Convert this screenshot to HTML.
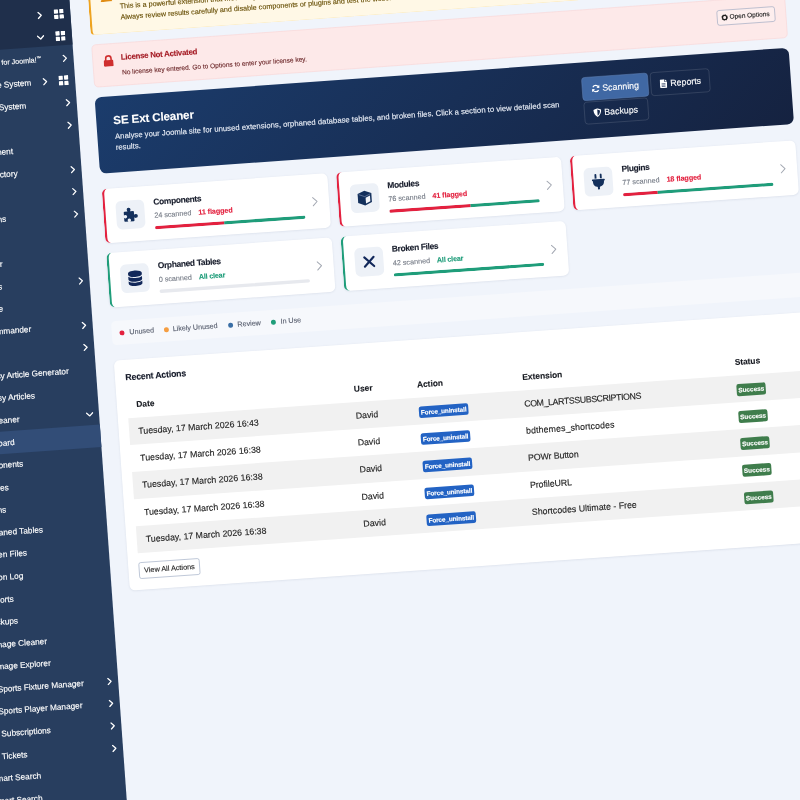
<!DOCTYPE html>
<html lang="en"><head><meta charset="utf-8"><title>SE Ext Cleaner</title>
<style>
html,body{margin:0;padding:0}
body{width:800px;height:800px;overflow:hidden;background:#f0f4fb;position:relative;font-family:"Liberation Sans",sans-serif}
#page{position:absolute;left:0;top:0;width:1800px;height:1800px;transform-origin:0 0;transform:matrix(0.548592,-0.039324,0.039324,0.548592,-73.65,-72.46);background:#f0f4fb}
#page *{box-sizing:border-box}
#page{-webkit-text-stroke:.22px currentColor}
#sb{position:absolute;left:-150px;top:-50px;width:400px;height:1900px;background:#283e5f}
#sbi{position:absolute;left:150px;top:50px;width:250px;height:1800px}
#sbt{position:absolute;left:0;top:0;width:400px;height:281px;background:#1f2f4b}
#act{position:absolute;left:0;top:974.2px;width:400px;height:40.57px;background:#324d77}
.sl{position:absolute;color:#fff;font-size:15px;line-height:20px;white-space:nowrap;-webkit-text-stroke:.25px #fff}
.ch{position:absolute;fill:none;stroke:#fff;stroke-width:2.3;stroke-linecap:round;stroke-linejoin:round}
.gr{position:absolute;fill:#fff}
.abs{position:absolute}
#al1{position:absolute;left:284px;top:100px;width:1264px;height:116.5px;background:#fff8e6;border:1px solid #fde7b0;border-left:4px solid #eea320;border-radius:8px}
#al1 .t{position:absolute;left:52.5px;color:#664d03;font-size:13.1px;line-height:20px;white-space:nowrap}
#al2{position:absolute;left:284px;top:234px;width:1264px;height:78px;background:#fde9e9;border:1px solid #f9d2d2;border-radius:8px}
#al2 .h{position:absolute;left:51px;top:15px;color:#a51c25;font-weight:bold;font-size:14.2px;letter-spacing:-.42px;line-height:20px;white-space:nowrap}
#al2 .d{position:absolute;left:51px;top:43px;color:#6e2a2c;font-size:11.95px;line-height:20px;white-space:nowrap}
#oo{position:absolute;left:1137px;top:18px;width:106px;height:28px;background:rgba(255,255,255,.25);border:1.5px solid #8d9dba;border-radius:4.5px;font-size:11.8px;line-height:25px;color:#222;white-space:nowrap;padding-left:22px}
#oo svg{position:absolute;left:6.5px;top:6.5px}
#hero{position:absolute;left:283px;top:329.5px;width:1265px;height:139px;border-radius:12px;background:linear-gradient(135deg,#1b3c6c 0%,#152240 100%);color:#fff}
#hero h1{position:absolute;left:31px;top:30px;margin:0;font-size:21px;letter-spacing:-.2px;line-height:28px;font-weight:bold;white-space:nowrap}
#hero p{position:absolute;left:32px;top:63.5px;margin:0;font-size:14.1px;line-height:20.4px;width:850px;color:#e9eef7}
.hb{position:absolute;height:40px;border:1px solid rgba(255,255,255,.22);border-radius:6px;font-size:16px;line-height:38px;color:#fff;white-space:nowrap;text-align:left}
.hb svg{position:absolute;top:11px}
.card{position:absolute;width:410.67px;height:99px;background:#fff;border-radius:10px;border-left:4px solid red;box-shadow:0 1px 4px rgba(20,40,80,.10)}
.ib{position:absolute;left:19px;top:23.5px;width:52px;height:52px;border-radius:10px;background:#edf1f7;display:flex;align-items:center;justify-content:center}
.ct{position:absolute;left:88px;top:19.5px;font-size:15.3px;letter-spacing:-.62px;line-height:20px;font-weight:bold;color:#171c2b;white-space:nowrap}
.cs{position:absolute;left:88px;top:46px;font-size:13.1px;line-height:18px;color:#757b86;white-space:nowrap}
.cs b{margin-left:9px;font-size:13.1px;letter-spacing:-.15px}
.fl{color:#e3213f} .cl{color:#1f9d7a;letter-spacing:-.35px !important}
.pb{position:absolute;left:88px;top:73.5px;width:274px;height:6px;border-radius:3px;background:#e7e9ee;overflow:hidden;font-size:0;white-space:nowrap}
.pb i{display:inline-block;height:6px}
.pb .r{background:#e3213f} .pb .g{background:#1f9d7a}
.cc{position:absolute;left:376px;top:41px;fill:none;stroke:#a3a8b2;stroke-width:1.8;stroke-linecap:round;stroke-linejoin:round}
#low{position:absolute;left:0;top:0;width:1800px;height:1800px;transform-origin:284px 480px;transform:rotate(0.08deg)}
#lg{position:absolute;left:284px;top:738px;width:1264px;height:44px;border-radius:8px;background:#f6f8fc}
#lg span{position:absolute;top:12px;font-size:13px;line-height:20px;color:#5a6070;white-space:nowrap}
#lg i{position:absolute;top:17.5px;width:9px;height:9px;border-radius:5px}
#tc{position:absolute;left:284px;top:810px;width:1264px;height:419px;background:#fff;border-radius:10px;box-shadow:0 1px 4px rgba(20,40,80,.10)}
#tc h2{position:absolute;left:19px;top:21px;margin:0;font-size:16px;letter-spacing:-.4px;line-height:22px;font-weight:bold;color:#171c2b;white-space:nowrap}
.th,.tr{position:absolute;left:19px;width:1226px;height:49.3px;font-size:16px;line-height:49.3px;color:#222;white-space:nowrap}
.th{top:56.5px;font-weight:bold;color:#15181f;font-size:15.2px}
.tr.odd{background:#f1f1f1}
.th span,.tr span.c1,.tr span.c2,.tr span.c3,.tr span.c4,.tr span.c5{position:absolute;top:0}
.c1{left:16.5px} .c2{left:413px} .c3{left:528px} .c4{left:720px} .c5{left:1107px}
.bd{display:inline-block;vertical-align:middle;position:relative;top:1px;height:21px;line-height:21px;border-radius:4px;color:#fff;font-weight:bold;font-size:11.6px;padding:0 6px;text-align:center}
.fu{letter-spacing:-.18px}
.fu{background:#2363c4;width:90px;padding:0} .ok{background:#3f7d4c;width:53px;height:22px;line-height:22px;padding:0}
#va{position:absolute;left:19px;top:369px;width:111px;height:30px;border:1.5px solid #8d9dba;border-radius:4px;background:#fff;font-size:13.2px;line-height:27px;text-align:center;color:#222;white-space:nowrap}
</style></head><body>
<div id="page">
<div id="sb"><div id="sbt"></div><div id="act"></div><div id="sbi">
<svg class="ch" style="left:188.0px;top:166.7px" width="12" height="14" viewBox="0 0 12 14"><polyline points="3.5,1.5 9,7 3.5,12.5"/></svg>
<svg class="gr" style="left:220.0px;top:164.7px" width="18" height="18" viewBox="0 0 16 16"><rect x="0" y="0" width="7" height="7" rx="1"/><rect x="9" y="0" width="7" height="7" rx="1"/><rect x="0" y="9" width="7" height="7" rx="1"/><rect x="9" y="9" width="7" height="7" rx="1"/></svg>
<svg class="ch" style="left:185.5px;top:208.2px" width="14" height="12" viewBox="0 0 14 12"><polyline points="1.5,3.5 7,9 12.5,3.5"/></svg>
<svg class="gr" style="left:220.0px;top:205.2px" width="18" height="18" viewBox="0 0 16 16"><rect x="0" y="0" width="7" height="7" rx="1"/><rect x="9" y="0" width="7" height="7" rx="1"/><rect x="0" y="9" width="7" height="7" rx="1"/><rect x="9" y="9" width="7" height="7" rx="1"/></svg>
<span class="sl" style="right:58.8px;top:244.8px;font-size:13px">Akeeba Backup for Joomla!<span style="font-size:8.5px;position:relative;top:-4.5px">™</span></span>
<svg class="ch" style="left:228.0px;top:247.8px" width="12" height="14" viewBox="0 0 12 14"><polyline points="3.5,1.5 9,7 3.5,12.5"/></svg>
<span class="sl" style="right:79.9px;top:285.4px">SE Invoice System</span>
<svg class="ch" style="left:188.5px;top:288.4px" width="12" height="14" viewBox="0 0 12 14"><polyline points="3.5,1.5 9,7 3.5,12.5"/></svg>
<svg class="gr" style="left:220.0px;top:286.4px" width="18" height="18" viewBox="0 0 16 16"><rect x="0" y="0" width="7" height="7" rx="1"/><rect x="9" y="0" width="7" height="7" rx="1"/><rect x="0" y="9" width="7" height="7" rx="1"/><rect x="9" y="9" width="7" height="7" rx="1"/></svg>
<span class="sl" style="right:92.0px;top:325.9px">SE Booking System</span>
<svg class="ch" style="left:228.0px;top:328.9px" width="12" height="14" viewBox="0 0 12 14"><polyline points="3.5,1.5 9,7 3.5,12.5"/></svg>
<svg class="ch" style="left:228.0px;top:369.5px" width="12" height="14" viewBox="0 0 12 14"><polyline points="3.5,1.5 9,7 3.5,12.5"/></svg>
<span class="sl" style="right:121.9px;top:407.1px">SE Management</span>
<span class="sl" style="right:116.6px;top:447.6px">SE Directory</span>
<svg class="ch" style="left:228.0px;top:450.6px" width="12" height="14" viewBox="0 0 12 14"><polyline points="3.5,1.5 9,7 3.5,12.5"/></svg>
<svg class="ch" style="left:228.0px;top:491.2px" width="12" height="14" viewBox="0 0 12 14"><polyline points="3.5,1.5 9,7 3.5,12.5"/></svg>
<span class="sl" style="right:143.0px;top:528.8px">SE Coupons</span>
<svg class="ch" style="left:228.0px;top:531.8px" width="12" height="14" viewBox="0 0 12 14"><polyline points="3.5,1.5 9,7 3.5,12.5"/></svg>
<span class="sl" style="right:155.6px;top:609.9px">SE Docs Manager</span>
<span class="sl" style="right:159.4px;top:650.5px">SE Events</span>
<svg class="ch" style="left:228.0px;top:653.5px" width="12" height="14" viewBox="0 0 12 14"><polyline points="3.5,1.5 9,7 3.5,12.5"/></svg>
<span class="sl" style="right:160.5px;top:691.1px">SE Gallery Lite</span>
<span class="sl" style="right:112.0px;top:731.6px">SE Commander</span>
<svg class="ch" style="left:228.0px;top:734.6px" width="12" height="14" viewBox="0 0 12 14"><polyline points="3.5,1.5 9,7 3.5,12.5"/></svg>
<svg class="ch" style="left:228.0px;top:775.2px" width="12" height="14" viewBox="0 0 12 14"><polyline points="3.5,1.5 9,7 3.5,12.5"/></svg>
<span class="sl" style="right:49.5px;top:812.8px">SE Easy Article Generator</span>
<span class="sl" style="right:113.9px;top:853.3px">SE Easy Articles</span>
<span class="sl" style="right:145.0px;top:893.9px">SE Ext Cleaner</span>
<svg class="ch" style="left:225.6px;top:897.9px" width="14" height="12" viewBox="0 0 14 12"><polyline points="1.5,3.5 7,9 12.5,3.5"/></svg>
<span class="sl" style="right:156.9px;top:934.5px">Dashboard</span>
<span class="sl" style="right:144.0px;top:975.1px">Components</span>
<span class="sl" style="right:173.3px;top:1015.6px">Modules</span>
<span class="sl" style="right:180.8px;top:1056.2px">Plugins</span>
<span class="sl" style="right:116.8px;top:1096.8px">Orphaned Tables</span>
<span class="sl" style="right:148.8px;top:1137.3px">Broken Files</span>
<span class="sl" style="right:158.4px;top:1177.9px">Action Log</span>
<span class="sl" style="right:178.9px;top:1218.5px">Reports</span>
<span class="sl" style="right:173.9px;top:1259.0px">Backups</span>
<span class="sl" style="right:124.0px;top:1299.6px">SE Image Cleaner</span>
<span class="sl" style="right:120.1px;top:1340.2px">SE Image Explorer</span>
<span class="sl" style="right:62.9px;top:1380.8px">SE Sports Fixture Manager</span>
<svg class="ch" style="left:228.0px;top:1383.8px" width="12" height="14" viewBox="0 0 12 14"><polyline points="3.5,1.5 9,7 3.5,12.5"/></svg>
<span class="sl" style="right:68.0px;top:1421.3px">SE Sports Player Manager</span>
<svg class="ch" style="left:228.0px;top:1424.3px" width="12" height="14" viewBox="0 0 12 14"><polyline points="3.5,1.5 9,7 3.5,12.5"/></svg>
<span class="sl" style="right:128.7px;top:1461.9px">SE Subscriptions</span>
<svg class="ch" style="left:228.0px;top:1464.9px" width="12" height="14" viewBox="0 0 12 14"><polyline points="3.5,1.5 9,7 3.5,12.5"/></svg>
<span class="sl" style="right:174.0px;top:1502.5px">SE Tickets</span>
<svg class="ch" style="left:228.0px;top:1505.5px" width="12" height="14" viewBox="0 0 12 14"><polyline points="3.5,1.5 9,7 3.5,12.5"/></svg>
<span class="sl" style="right:152.0px;top:1543.0px">Smart Search</span>
<span class="sl" style="right:152.4px;top:1583.6px">Smart Search</span>
<span class="sl" style="right:210.0px;top:1624.2px">Tags</span>
</div></div>

<div id="al1">
<svg class="abs" style="left:18px;top:37px" width="22" height="20" viewBox="0 0 22 20"><path fill="#e08c14" d="M11 0 22 20H0z"/></svg>
<span class="t" style="top:57px">This is a powerful extension that modifies your Joomla installation. Always create a full backup before removing anything.</span>
<span class="t" style="top:77px">Always review results carefully and disable components or plugins and test the website before uninstalling them permanently.</span>
</div>

<div id="al2">
<svg class="abs" style="left:19px;top:20px" width="18" height="20.7" viewBox="0 0 20 23"><path fill="#cf2e2e" d="M3 10V7a7 7 0 0 1 14 0v3h.5A2.500 2.500 0 0 1 20 12.500v8A2.500 2.500 0 0 1 17.500 23h-15A2.500 2.500 0 0 1 0 20.500v-8A2.500 2.500 0 0 1 2.500 10zm3.200 0h7.600V7a3.800 3.800 0 0 0-7.600 0z"/></svg>
<span class="h">License Not Activated</span>
<span class="d">No license key entered. Go to Options to enter your license key.</span>
<div id="oo"><svg width="12" height="12" viewBox="0 0 16 16"><circle cx="8" cy="8" r="5.2" fill="none" stroke="#222" stroke-width="3.2"/><circle cx="8" cy="8" r="6.6" fill="none" stroke="#222" stroke-width="2.6" stroke-dasharray="2.6 2.58"/></svg>Open Options</div>
</div>

<div id="hero">
<h1>SE Ext Cleaner</h1>
<p>Analyse your Joomla site for unused extensions, orphaned database tables, and broken files. Click a section to view detailed scan results.</p>
<div class="hb" style="left:885px;top:27px;width:121px;height:43px;line-height:41px;background:#4068a4;border-color:#5d7fb3;padding-left:36px"><svg style="left:16px;top:13px" width="16" height="16" viewBox="0 0 16 16"><path fill="none" stroke="#fff" stroke-width="2.2" d="M13.500 6.500A5.700 5.700 0 0 0 3 5.200M2.500 9.500A5.700 5.700 0 0 0 13 10.800"/><path fill="#fff" d="M14.800 1.800v5.400H9.400zM1.200 14.200V8.800h5.400z"/></svg>Scanning</div>
<div class="hb" style="left:1010px;top:27.5px;width:107.5px;height:43px;line-height:41px;padding-left:35px"><svg style="left:16px;top:13px" width="13" height="16" viewBox="0 0 13 16"><path fill="#fff" d="M1.500 0H8v4.500h5V14.500A1.500 1.500 0 0 1 11.500 16h-10A1.500 1.500 0 0 1 0 14.500v-13A1.500 1.500 0 0 1 1.500 0zM9.200 0 13 3.600H9.200z"/><path stroke="#14284f" stroke-width="1.100" d="M3 8h7M3 10.500h7M3 13h7"/></svg>Reports</div>
<div class="hb" style="left:885.500px;top:72px;width:117px;height:41.500px;line-height:39.500px;padding-left:36px"><svg style="left:15px;top:12px" width="16" height="16" viewBox="0 0 16 16"><path fill="#fff" d="M8 0 15 2.800c0 6-2.500 10.500-7 13.200C3.500 13.300 1 8.800 1 2.800zM8 2.200v11.500c3.200-2.200 4.800-5.600 4.900-9.500z"/></svg>Backups</div>
</div>

<div id="low">
<div class="card" style="left:284px;top:497px;border-left-color:#e3213f">
<div class="ib"><svg width="30" height="30" viewBox="0 0 30 30"><rect x="3" y="9" width="18.5" height="18.5" rx="1.5" fill="#14305c"/><circle cx="12.2" cy="5.800" r="3.500" fill="#14305c"/><rect x="9.800" y="6" width="4.800" height="5" fill="#14305c"/><circle cx="24.700" cy="18.200" r="3.500" fill="#14305c"/><rect x="20" y="15.800" width="4.500" height="4.800" fill="#14305c"/><circle cx="5.600" cy="18.200" r="3.100" fill="#edf1f7"/><rect x="2" y="16.400" width="3.500" height="3.600" fill="#edf1f7"/><circle cx="12.200" cy="24.900" r="3.100" fill="#edf1f7"/><rect x="10.400" y="25" width="3.600" height="3.500" fill="#edf1f7"/></svg></div>
<div class="ct">Components</div>
<div class="cs">24 scanned <b class="fl">11 flagged</b></div>
<div class="pb"><i class="r" style="width:46%"></i><i class="g" style="width:54%"></i></div>
<svg class="cc" width="11" height="18" viewBox="0 0 11 18"><polyline points="1.500,1.500 9,9 1.500,16.500"/></svg>
</div><div class="card" style="left:710.67px;top:497px;border-left-color:#e3213f">
<div class="ib"><svg width="30" height="30" viewBox="0 0 30 30"><path fill="#14305c" d="M15 1.500 27.500 6.500V23L15 28.500 2.500 23V6.500z"/><path fill="#f4f6fa" d="M16.600 14.300 24.800 10.900V21.300L16.600 24.900z"/><path fill="none" stroke="#8fa0bd" stroke-width="1" d="M4.500 8 15 12.300 25.500 8"/></svg></div>
<div class="ct">Modules</div>
<div class="cs">76 scanned <b class="fl">41 flagged</b></div>
<div class="pb"><i class="r" style="width:54%"></i><i class="g" style="width:46%"></i></div>
<svg class="cc" width="11" height="18" viewBox="0 0 11 18"><polyline points="1.500,1.500 9,9 1.500,16.500"/></svg>
</div><div class="card" style="left:1137.33px;top:497px;border-left-color:#e3213f">
<div class="ib"><svg width="24" height="30" viewBox="0 0 24 30"><path fill="#14305c" d="M5.500 2.200a1.700 1.700 0 0 1 3.400 0V9H5.500zM15.100 2.200a1.700 1.700 0 0 1 3.400 0V9h-3.400zM1.500 10.200h21c.8 0 1.300.6 1.300 1.300v.6c0 .8-.6 1.300-1.300 1.300H22v2.200c0 4.300-3 7.800-7.200 8.600-.6.200-1 .7-1 1.300V29h-3.600v-3.500c0-.6-.4-1.100-1-1.300C5 23.400 2 19.900 2 15.600v-2.200h-.5c-.8 0-1.300-.6-1.300-1.300v-.6c0-.8.600-1.300 1.300-1.300z"/></svg></div>
<div class="ct">Plugins</div>
<div class="cs">77 scanned <b class="fl">18 flagged</b></div>
<div class="pb"><i class="r" style="width:23%"></i><i class="g" style="width:77%"></i></div>
<svg class="cc" width="11" height="18" viewBox="0 0 11 18"><polyline points="1.500,1.500 9,9 1.500,16.500"/></svg>
</div><div class="card" style="left:284px;top:613.5px;border-left-color:#1f9d7a">
<div class="ib"><svg width="27" height="30" viewBox="0 0 27 30"><path fill="#12285a" d="M13.500 1C20.400 1 26 3 26 5.500v2.700c0 2.500-5.600 4.500-12.500 4.500S1 10.700 1 8.200V5.500C1 3 6.600 1 13.500 1zM1 11.700c2.400 1.900 7.300 2.900 12.500 2.900s10.100-1 12.500-2.900v5.100c0 2.500-5.600 4.500-12.500 4.500S1 19.300 1 16.800zm0 8.600c2.400 1.900 7.300 2.900 12.500 2.900s10.100-1 12.500-2.900v4.400c0 2.500-5.600 4.500-12.500 4.500S1 27.200 1 24.700z"/></svg></div>
<div class="ct">Orphaned Tables</div>
<div class="cs">0 scanned <b class="cl">All clear</b></div>
<div class="pb"></div>
<svg class="cc" width="11" height="18" viewBox="0 0 11 18"><polyline points="1.500,1.500 9,9 1.500,16.500"/></svg>
</div><div class="card" style="left:710.67px;top:613.5px;border-left-color:#1f9d7a">
<div class="ib"><svg width="24" height="24" viewBox="0 0 24 24"><path stroke="#12285a" stroke-width="3.800" stroke-linecap="round" d="M3.500 3.500l17 17M20.500 3.500l-17 17"/></svg></div>
<div class="ct">Broken Files</div>
<div class="cs">42 scanned <b class="cl">All clear</b></div>
<div class="pb"><i class="g" style="width:100%"></i></div>
<svg class="cc" width="11" height="18" viewBox="0 0 11 18"><polyline points="1.500,1.500 9,9 1.500,16.500"/></svg>
</div>

<div id="lg">
<i style="left:14px;background:#e3213f"></i><span style="left:32px">Unused</span>
<i style="left:95px;background:#f59e42"></i><span style="left:111px">Likely Unused</span>
<i style="left:212px;background:#3a6ea5"></i><span style="left:229px">Review</span>
<i style="left:290px;background:#1f9d7a"></i><span style="left:307.500px">In Use</span>
</div>

<div id="tc">
<h2>Recent Actions</h2>
<div class="th"><span class="c1">Date</span><span class="c2">User</span><span class="c3">Action</span><span class="c4">Extension</span><span class="c5">Status</span></div>
<div id="rows">
<div style="top:105.8px" class="tr odd"><span class="c1">Tuesday, 17 March 2026 16:43</span><span class="c2">David</span><span class="c3"><span class="bd fu">Force_uninstall</span></span><span class="c4" style="letter-spacing:-0.7px">COM_LARTSSUBSCRIPTIONS</span><span class="c5"><span class="bd ok">Success</span></span></div>
<div style="top:155.1px" class="tr"><span class="c1">Tuesday, 17 March 2026 16:38</span><span class="c2">David</span><span class="c3"><span class="bd fu">Force_uninstall</span></span><span class="c4" style="letter-spacing:0.2px">bdthemes_shortcodes</span><span class="c5"><span class="bd ok">Success</span></span></div>
<div style="top:204.4px" class="tr odd"><span class="c1">Tuesday, 17 March 2026 16:38</span><span class="c2">David</span><span class="c3"><span class="bd fu">Force_uninstall</span></span><span class="c4" style="letter-spacing:-0.18px">POWr Button</span><span class="c5"><span class="bd ok">Success</span></span></div>
<div style="top:253.7px" class="tr"><span class="c1">Tuesday, 17 March 2026 16:38</span><span class="c2">David</span><span class="c3"><span class="bd fu">Force_uninstall</span></span><span class="c4" style="letter-spacing:-0.08px">ProfileURL</span><span class="c5"><span class="bd ok">Success</span></span></div>
<div style="top:303.0px" class="tr odd"><span class="c1">Tuesday, 17 March 2026 16:38</span><span class="c2">David</span><span class="c3"><span class="bd fu">Force_uninstall</span></span><span class="c4" style="letter-spacing:0px">Shortcodes Ultimate - Free</span><span class="c5"><span class="bd ok">Success</span></span></div>
</div>
<div id="va">View All Actions</div>
</div>
</div>

</div>
</body></html>
